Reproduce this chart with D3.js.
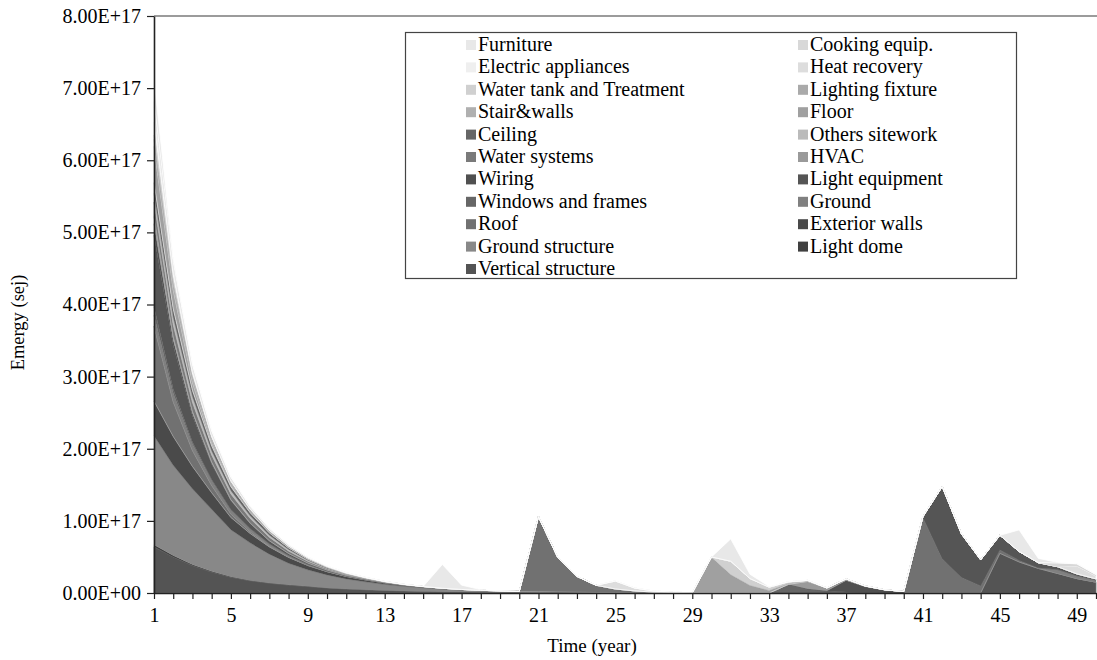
<!DOCTYPE html>
<html>
<head>
<meta charset="utf-8">
<script src="https://cdn.jsdelivr.net/npm/d3@7"></script>
<style>
  body { margin: 0; background: #fff; }
  svg { display: block; }
  text { font-family: "Liberation Serif", "Times New Roman", serif; fill: #000; }
</style>
</head>
<body>
<div id="grafico"></div>
<script>
// valores en unidades de 1E+17 sej, años 1..50
const UNIT = 1e17;
const years = [
  1, 2, 3, 4, 5, 6, 7, 8, 9, 10, 11, 12, 13, 14, 15, 16, 17, 18, 19, 20, 21, 22, 23, 24, 25,
  26, 27, 28, 29, 30, 31, 32, 33, 34, 35, 36, 37, 38, 39, 40, 41, 42, 43, 44, 45, 46, 47, 48, 49, 50,
];
const xTickLabels = [1, 5, 9, 13, 17, 21, 25, 29, 33, 37, 41, 45, 49];
const yTicks = [0, 1e17, 2e17, 3e17, 4e17, 5e17, 6e17, 7e17, 8e17];

const verticalStructure = [
  0.64, 0.5, 0.38, 0.29, 0.22, 0.17, 0.135, 0.11, 0.09, 0.07,
  0.055, 0.045, 0.035, 0.028, 0.022, 0.017, 0.013, 0.01, 0.008, 0.006,
  0.005, 0.004, 0.003, 0.002, 0.002, 0.001, 0, 0, 0, 0,
  0, 0, 0, 0, 0, 0, 0, 0, 0, 0,
  0, 0, 0, 0, 0.55, 0.43, 0.34, 0.27, 0.2, 0.15,
];
const lightDome = [
  0.03, 0.02, 0.015, 0.01, 0.007, 0.005, 0.004, 0.003, 0.002, 0.001,
  0, 0, 0, 0, 0, 0, 0, 0, 0, 0,
  0, 0, 0, 0, 0, 0, 0, 0, 0, 0,
  0, 0, 0, 0, 0, 0, 0, 0, 0, 0,
  0, 0, 0, 0, 0, 0, 0, 0, 0, 0,
];
const groundStructure = [
  1.51, 1.25, 1.05, 0.86, 0.65, 0.52, 0.4, 0.3, 0.23, 0.18,
  0.14, 0.11, 0.085, 0.065, 0.05, 0.038, 0.029, 0.022, 0.017, 0.013,
  0.01, 0.008, 0.006, 0.005, 0.004, 0.003, 0.002, 0.002, 0.001, 0,
  0, 0, 0, 0, 0, 0, 0, 0, 0, 0,
  0, 0, 0, 0, 0, 0, 0, 0, 0, 0,
];
const exteriorWalls = [
  0.48, 0.4, 0.31, 0.23, 0.17, 0.13, 0.1, 0.08, 0.06, 0.045,
  0.035, 0.027, 0.02, 0.015, 0.012, 0.009, 0.007, 0.005, 0.004, 0.003,
  0.002, 0.002, 0.001, 0, 0, 0, 0, 0, 0, 0,
  0, 0, 0, 0, 0, 0, 0, 0, 0, 0,
  0, 0, 0, 0, 0, 0, 0, 0, 0, 0,
];
const roof = [
  1.04, 0.48, 0.22, 0.1, 0.05, 0.025, 0.01, 0.005, 0, 0,
  0, 0, 0, 0, 0, 0, 0, 0, 0, 0,
  1.04, 0.48, 0.22, 0.1, 0.05, 0.025, 0.01, 0.005, 0, 0,
  0, 0, 0, 0, 0, 0, 0, 0, 0, 0,
  1.05, 0.48, 0.22, 0.1, 0.05, 0.025, 0.01, 0.005, 0, 0,
];
const ground = [
  0.15, 0.12, 0.09, 0.07, 0.055, 0.045, 0.035, 0.025, 0.018, 0.012,
  0.008, 0.006, 0.004, 0.003, 0.002, 0.001, 0, 0, 0, 0,
  0, 0, 0, 0, 0, 0, 0, 0, 0, 0,
  0, 0, 0, 0, 0, 0, 0, 0, 0, 0,
  0, 0, 0, 0, 0, 0, 0, 0.05, 0.04, 0.03,
];
const windowsFrames = [
  0.12, 0.06, 0.03, 0.015, 0.007, 0, 0, 0, 0, 0,
  0, 0, 0, 0, 0, 0, 0, 0, 0, 0,
  0, 0, 0, 0, 0, 0, 0, 0, 0, 0,
  0, 0, 0, 0.12, 0.06, 0.03, 0.015, 0.007, 0, 0,
  0, 0, 0, 0, 0, 0, 0, 0, 0, 0,
];
const lightEquipment = [
  0.99, 0.6, 0.36, 0.21, 0.12, 0.07, 0.04, 0.025, 0.015, 0.01,
  0.006, 0.004, 0.002, 0.001, 0, 0, 0, 0, 0, 0,
  0, 0, 0, 0, 0, 0, 0, 0, 0, 0,
  0, 0, 0, 0, 0, 0, 0, 0, 0, 0,
  0, 0.99, 0.6, 0.36, 0.2, 0.12, 0.07, 0.04, 0.025, 0.015,
];
const wiring = [
  0.16, 0.08, 0.04, 0.02, 0.01, 0.005, 0, 0, 0, 0,
  0, 0, 0, 0, 0, 0, 0, 0, 0, 0,
  0, 0, 0, 0, 0, 0, 0, 0, 0, 0,
  0, 0, 0, 0, 0, 0, 0.16, 0.08, 0.04, 0.02,
  0.01, 0.005, 0, 0, 0, 0, 0, 0, 0, 0,
];
const hvac = [
  0.1, 0.04, 0.02, 0.01, 0.005, 0, 0, 0, 0, 0,
  0, 0, 0, 0, 0, 0, 0, 0, 0, 0,
  0, 0, 0, 0, 0, 0, 0, 0, 0, 0,
  0, 0, 0, 0, 0.1, 0.04, 0.02, 0.01, 0.005, 0,
  0, 0, 0, 0, 0, 0, 0, 0, 0, 0,
];
const waterSystems = [
  0.2, 0.17, 0.13, 0.1, 0.08, 0.065, 0.05, 0.035, 0.025, 0.017,
  0.012, 0.008, 0.005, 0.003, 0.002, 0.001, 0, 0, 0, 0,
  0, 0, 0, 0, 0, 0, 0, 0, 0, 0,
  0, 0, 0, 0, 0, 0, 0, 0, 0, 0,
  0, 0, 0, 0, 0, 0, 0, 0, 0, 0,
];
const othersSitework = [
  0.12, 0.1, 0.075, 0.055, 0.045, 0.035, 0.027, 0.02, 0.013, 0.009,
  0.006, 0.004, 0.003, 0.002, 0.001, 0, 0, 0, 0, 0,
  0, 0, 0, 0, 0, 0, 0, 0, 0, 0,
  0, 0, 0, 0, 0, 0, 0, 0, 0, 0,
  0, 0, 0, 0, 0, 0, 0, 0, 0, 0,
];
const ceiling = [
  0.15, 0.12, 0.09, 0.07, 0.055, 0.045, 0.035, 0.025, 0.017, 0.012,
  0.008, 0.005, 0.003, 0.002, 0.001, 0, 0, 0, 0, 0,
  0, 0, 0, 0, 0, 0, 0, 0, 0, 0,
  0, 0, 0, 0, 0, 0, 0, 0, 0, 0,
  0, 0, 0, 0, 0, 0, 0, 0, 0, 0,
];
const floor = [
  0.5, 0.26, 0.11, 0.04, 0.015, 0.005, 0, 0, 0, 0,
  0, 0, 0, 0, 0, 0, 0, 0, 0, 0,
  0, 0, 0, 0, 0, 0, 0, 0, 0, 0.5,
  0.26, 0.11, 0.04, 0.015, 0.005, 0, 0, 0, 0, 0,
  0, 0, 0, 0, 0, 0, 0, 0, 0, 0,
];
const stairWalls = [
  0.1, 0.08, 0.06, 0.045, 0.035, 0.028, 0.022, 0.016, 0.011, 0.008,
  0.005, 0.003, 0.002, 0.001, 0, 0, 0, 0, 0, 0,
  0, 0, 0, 0, 0, 0, 0, 0, 0, 0,
  0, 0, 0, 0, 0, 0, 0, 0, 0, 0,
  0, 0, 0, 0, 0, 0, 0, 0, 0, 0,
];
const lightingFixture = [
  0.06, 0.045, 0.035, 0.027, 0.02, 0.016, 0.012, 0.009, 0.006, 0.004,
  0.003, 0.002, 0.001, 0, 0, 0, 0, 0, 0, 0,
  0, 0, 0, 0, 0, 0, 0, 0, 0, 0,
  0, 0, 0, 0, 0, 0, 0, 0, 0, 0,
  0, 0, 0, 0, 0, 0, 0, 0, 0, 0,
];
const waterTank = [
  0.18, 0.09, 0.04, 0.02, 0.01, 0, 0, 0, 0, 0,
  0, 0, 0, 0, 0, 0, 0, 0, 0, 0,
  0, 0, 0, 0, 0, 0, 0, 0, 0, 0,
  0.18, 0.09, 0.04, 0.02, 0.01, 0, 0, 0, 0, 0,
  0, 0, 0, 0, 0, 0, 0, 0, 0, 0,
];
const heatRecovery = [
  0.11, 0.04, 0.015, 0.005, 0, 0, 0, 0, 0, 0,
  0, 0, 0, 0, 0, 0, 0, 0, 0, 0,
  0, 0, 0, 0, 0.11, 0.04, 0.015, 0.005, 0, 0,
  0, 0, 0, 0, 0, 0, 0, 0, 0, 0,
  0, 0, 0, 0, 0, 0, 0, 0, 0.11, 0.04,
];
const electricAppliances = [
  0.1, 0.08, 0.055, 0.04, 0.03, 0.022, 0.016, 0.011, 0.007, 0.005,
  0.003, 0.002, 0.001, 0, 0, 0, 0, 0, 0, 0,
  0, 0, 0, 0, 0, 0, 0, 0, 0, 0,
  0, 0, 0, 0, 0, 0, 0, 0, 0, 0,
  0, 0, 0, 0, 0, 0, 0, 0, 0, 0,
];
const cookingEquip = [
  0.07, 0.05, 0.04, 0.03, 0.022, 0.016, 0.012, 0.008, 0.005, 0.003,
  0.002, 0.001, 0, 0, 0, 0, 0, 0, 0, 0,
  0, 0, 0, 0, 0, 0, 0, 0, 0, 0,
  0, 0, 0, 0, 0, 0, 0, 0, 0, 0,
  0, 0, 0, 0, 0, 0, 0, 0.05, 0.03, 0.02,
];
const furniture = [
  0.32, 0.06, 0.01, 0, 0, 0, 0, 0, 0, 0,
  0, 0, 0, 0, 0, 0.33, 0.06, 0.01, 0, 0,
  0, 0, 0, 0, 0, 0, 0, 0, 0, 0,
  0.31, 0.06, 0.01, 0, 0, 0, 0, 0, 0, 0,
  0, 0, 0, 0, 0, 0.3, 0.06, 0.01, 0, 0,
];

// orden de apilado: de abajo hacia arriba
const seriesNames = [
  "Vertical structure", "Light dome", "Ground structure", "Exterior walls", "Roof",
  "Ground", "Windows and frames", "Light equipment", "Wiring", "HVAC",
  "Water systems", "Others sitework", "Ceiling", "Floor", "Stair&walls",
  "Lighting fixture", "Water tank and Treatment", "Heat recovery",
  "Electric appliances", "Cooking equip.", "Furniture",
];
const seriesValues = [
  verticalStructure, lightDome, groundStructure, exteriorWalls, roof,
  ground, windowsFrames, lightEquipment, wiring, hvac,
  waterSystems, othersSitework, ceiling, floor, stairWalls,
  lightingFixture, waterTank, heatRecovery,
  electricAppliances, cookingEquip, furniture,
];
const seriesColors = [
  "#545454", "#404040", "#888888", "#4a4a4a", "#717171",
  "#808080", "#666666", "#555555", "#505050", "#9a9a9a",
  "#7a7a7a", "#bbbbbb", "#666666", "#a0a0a0", "#b0b0b0",
  "#aaaaaa", "#d0d0d0", "#dddddd",
  "#efefef", "#d8d8d8", "#e8e8e8",
];
// series con borde claro visible
const outlined = ["Vertical structure", "Roof", "Water systems", "Floor", "Furniture", "Heat recovery"];

const width = 1097;
const height = 660;
const margin = { top: 16, right: 1, bottom: 67, left: 154 };

const table = years.map((yr, i) => {
  const row = { year: yr };
  seriesNames.forEach((n, k) => (row[n] = seriesValues[k][i] * UNIT));
  return row;
});

const stacked = d3.stack().keys(seriesNames).order(d3.stackOrderNone)(table);

const svg = d3
  .select("#grafico")
  .append("svg")
  .attr("width", width)
  .attr("height", height);

const x = d3
  .scaleLinear()
  .domain([1, 50])
  .range([margin.left, width - margin.right]);

const y = d3
  .scaleLinear()
  .domain([0, 8e17])
  .range([height - margin.bottom, margin.top]);

const color = d3.scaleOrdinal().domain(seriesNames).range(seriesColors);

const area = d3
  .area()
  .x((d) => x(d.data.year))
  .y0((d) => y(d[0]))
  .y1((d) => y(d[1]));

// Áreas apiladas
svg
  .append("g")
  .selectAll("path")
  .data(stacked)
  .join("path")
  .attr("d", area)
  .attr("fill", (d) => color(d.key))
  .attr("stroke", (d) => (outlined.includes(d.key) ? d3.color(color(d.key)).brighter(0.9) : color(d.key)))
  .attr("stroke-width", (d) => (outlined.includes(d.key) ? 0.8 : 0.3))
  .attr("stroke-linejoin", "round");

// Borde superior del área de trazado
svg
  .append("line")
  .attr("x1", margin.left)
  .attr("x2", width)
  .attr("y1", margin.top)
  .attr("y2", margin.top)
  .attr("stroke", "#7a7a7a")
  .attr("stroke-width", 1.5);

const fmt = (v) => {
  if (v === 0) return "0.00E+00";
  const e = Math.floor(Math.log10(v));
  return (v / Math.pow(10, e)).toFixed(2) + "E+" + String(e).padStart(2, "0");
};

// Eje Y
const yAxis = svg
  .append("g")
  .attr("transform", `translate(${margin.left},0)`)
  .call(d3.axisLeft(y).tickValues(yTicks).tickFormat(fmt).tickSize(7).tickSizeOuter(0).tickPadding(6));
yAxis.select(".domain").attr("stroke", "#222").attr("stroke-width", 1.6);
yAxis.selectAll(".tick line").attr("stroke", "#222").attr("stroke-width", 1.2);
yAxis.selectAll("text").style("font-size", "20px").style("font-family", "Liberation Serif, serif").attr("fill", "#000");

// Eje X
const xAxis = svg
  .append("g")
  .attr("transform", `translate(0,${height - margin.bottom})`)
  .call(
    d3
      .axisBottom(x)
      .tickValues(years)
      .tickFormat((d) => (xTickLabels.includes(d) ? d : ""))
      .tickSize(6)
      .tickSizeOuter(0)
      .tickPadding(9)
  );
xAxis.select(".domain").attr("stroke", "#222").attr("stroke-width", 1.6);
xAxis.selectAll(".tick line").attr("stroke", "#222").attr("stroke-width", 1.2);
xAxis.selectAll("text").style("font-size", "20px").style("font-family", "Liberation Serif, serif").attr("fill", "#000");

// Títulos de ejes
svg
  .append("text")
  .attr("transform", `translate(24, ${(margin.top + height - margin.bottom) / 2 + 18}) rotate(-90)`)
  .attr("text-anchor", "middle")
  .style("font-size", "18.5px")
  .text("Emergy (sej)");

svg
  .append("text")
  .attr("x", 592)
  .attr("y", 652)
  .attr("text-anchor", "middle")
  .style("font-size", "19px")
  .text("Time (year)");

// Leyenda
const legendNames = seriesNames.slice().reverse();
const legend = svg.append("g");
legend
  .append("rect")
  .attr("x", 405.5)
  .attr("y", 32.5)
  .attr("width", 611)
  .attr("height", 246)
  .attr("fill", "#fff")
  .attr("stroke", "#444")
  .attr("stroke-width", 1.2);

legendNames.forEach((n, i) => {
  const col = i % 2;
  const row = Math.floor(i / 2);
  const g = legend
    .append("g")
    .attr("transform", `translate(${col === 0 ? 466 : 798}, ${45 + row * 22.4})`);
  g.append("rect")
    .attr("x", 0)
    .attr("y", -5)
    .attr("width", 10)
    .attr("height", 10)
    .attr("fill", color(n));
  g.append("text")
    .attr("x", 12)
    .attr("y", 6)
    .text(n)
    .style("font-size", "20px");
});
</script>
</body>
</html>
